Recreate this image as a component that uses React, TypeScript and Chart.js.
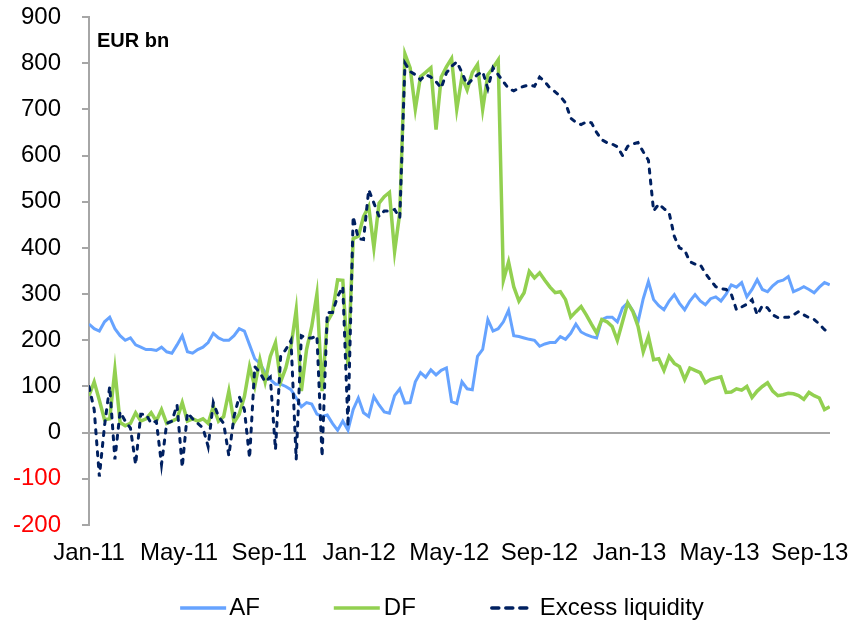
import React, { useEffect, useRef } from 'react';
import { Chart, registerables } from 'chart.js';

Chart.register(...registerables);

const FONT = '"Liberation Sans", Arial, sans-serif';

// Time axis: weekly observations starting Jan 2011, x expressed in months since Jan-11
const MONTHS_PER_WEEK = 7 / 30.4375;
const MONTHS_PER_TICK = 4;
const xTickLabels = ['Jan-11', 'May-11', 'Sep-11', 'Jan-12', 'May-12', 'Sep-12', 'Jan-13', 'May-13', 'Sep-13'];

const unitLabel = 'EUR bn';
const seriesNames = ['AF', 'DF', 'Excess liquidity'];

const afValues = [
  235, 225, 220, 240, 250, 225, 210, 200, 205, 190, 185, 180, 180, 178, 185, 175, 172, 190, 210, 175,
  172, 180, 185, 195, 215, 205, 200, 200, 210, 225, 220, 190, 160, 150, 130, 115, 105, 105, 100, 93,
  75, 56, 65, 62, 40, 35, 38, 20, 5, 25, 5, 50, 75, 43, 35, 78, 60, 45, 42, 80,
  95, 64, 65, 110, 130, 120, 136, 125, 135, 140, 67, 63, 110, 95, 93, 165, 180, 245, 220, 225,
  240, 265, 210, 208, 205, 202, 200, 187, 192, 195, 195, 208, 202, 215, 235, 218, 212, 208, 205, 245,
  250, 250, 240, 270, 281, 264, 240, 290, 327, 288, 275, 266, 285, 299, 280, 266, 285, 299, 285, 277,
  290, 294, 285, 300, 320, 315, 325, 294, 310, 331, 310, 305, 318, 327, 330, 338, 305, 310, 316, 310,
  303, 315, 325, 320,
];

const dfValues = [
  80, 110, 70, 28, 30, 136, 22, 15, 20, 43, 25, 30, 43, 25, 50, 20, 25, 30, 65, 25,
  30, 25, 30, 20, 57, 25, 35, 90, 22, 40, 78, 143, 100, 158, 110, 165, 195, 110, 140, 187,
  266, 90, 180, 230, 300, 90, 240, 260, 331, 330, 145, 420, 425, 468, 490, 400, 497, 511, 520, 392,
  476, 820, 790, 700, 771, 780, 790, 656, 770, 792, 810, 700, 770, 742, 780, 797, 700, 775, 790, 807,
  330, 370, 316, 285, 303, 349, 335, 346, 330, 315, 303, 305, 288, 250, 262, 273, 255, 235, 216, 245,
  240, 230, 200, 240, 281, 262, 230, 175, 208, 158, 160, 135, 165, 150, 143, 115, 140, 135, 130, 108,
  115, 118, 121, 87, 88, 95, 92, 100, 76, 90, 100, 108, 90, 80, 82, 85, 84, 80, 72, 87,
  80, 75, 50, 56,
];

const elValues = [
  100, 50, -95, 15, 100, -58, 45, 25, 10, -69, 40, 40, 20, 25, -69, 20, 25, 60, -75, 43,
  30, 20, 10, -30, 65, 35, 20, -50, 35, 78, 50, -55, 143, 130, 110, 120, -37, 165, 180, 200,
  -58, 210, 205, 205, 210, -52, 260, 260, 295, 316, 13, 468, 420, 418, 526, 497, 468, 480, 480, 483,
  465, 800, 782, 775, 764, 775, 770, 760, 746, 779, 793, 803, 780, 753, 765, 775, 782, 745, 790, 775,
  760, 745, 740, 746, 750, 753, 750, 770, 760, 746, 738, 728, 714, 681, 672, 667, 673, 671, 650, 634,
  628, 625, 619, 600, 620, 625, 628, 608, 590, 480, 495, 485, 476, 425, 400, 395, 370, 365, 364, 345,
  330, 316, 312, 310, 300, 266, 272, 278, 288, 255, 275, 270, 255, 249, 250, 250, 255, 262, 255, 249,
  245, 235, 223, 215,
];

const toPoints = (vals: number[]) => vals.map((y, i) => ({ x: i * MONTHS_PER_WEEK, y }));

const overlayPlugin = {
  id: 'overlay',
  afterDraw(chart: any) {
    const { ctx, chartArea } = chart;
    ctx.save();
    // unit label
    ctx.font = `bold 20px ${FONT}`;
    ctx.fillStyle = '#000000';
    ctx.textAlign = 'left';
    ctx.textBaseline = 'alphabetic';
    ctx.fillText(unitLabel, chartArea.left + 8, chartArea.top + 30);

    // legend
    ctx.font = `24px ${FONT}`;
    ctx.textBaseline = 'middle';
    const datasets = chart.data.datasets;
    const lineLen = [46, 46, 40];
    const textGap = [3, 4, 10];
    const itemGap = 74;
    const widths = datasets.map((d: any, i: number) => lineLen[i] + textGap[i] + ctx.measureText(d.label).width);
    const total = widths.reduce((a: number, b: number) => a + b, 0) + itemGap * (datasets.length - 1);
    let x = 442 - total / 2;
    const y = 608;
    datasets.forEach((d: any, i: number) => {
      ctx.save();
      ctx.strokeStyle = d.borderColor;
      ctx.lineWidth = 3.5;
      ctx.lineCap = i === 2 ? 'round' : 'butt';
      ctx.setLineDash(i === 2 ? [7, 7] : []);
      ctx.beginPath();
      ctx.moveTo(x + (i === 2 ? 2 : 0), y);
      ctx.lineTo(x + lineLen[i], y);
      ctx.stroke();
      ctx.restore();
      ctx.fillStyle = '#000000';
      ctx.fillText(d.label, x + lineLen[i] + textGap[i], y);
      x += widths[i] + itemGap;
    });
    ctx.restore();
  },
};

export default function App() {
  const canvasRef = useRef<HTMLCanvasElement | null>(null);

  useEffect(() => {
    if (!canvasRef.current) return;
    const chart = new Chart(canvasRef.current, {
      type: 'line',
      data: {
        datasets: [
          {
            label: seriesNames[0],
            data: toPoints(afValues),
            borderColor: '#66a3ff',
            borderWidth: 3,
            pointRadius: 0,
            tension: 0,
            order: 3,
          },
          {
            label: seriesNames[1],
            data: toPoints(dfValues),
            borderColor: '#92d050',
            borderWidth: 3.5,
            pointRadius: 0,
            tension: 0,
            order: 2,
          },
          {
            label: seriesNames[2],
            data: toPoints(elValues),
            borderColor: '#002060',
            borderWidth: 3,
            borderDash: [4, 7],
            borderCapStyle: 'round',
            pointRadius: 0,
            tension: 0,
            order: 1,
          },
        ],
      },
      options: {
        responsive: false,
        animation: false,
        layout: { padding: { left: 0, right: 20, top: 17, bottom: 0 } },
        plugins: { legend: { display: false }, tooltip: { enabled: false } },
        scales: {
          x: {
            type: 'linear',
            min: 0,
            max: 32.9,
            grid: { display: false, drawTicks: false },
            border: { display: false },
            ticks: {
              stepSize: MONTHS_PER_TICK,
              includeBounds: false,
              autoSkip: false,
              maxRotation: 0,
              padding: 14,
              color: '#000000',
              font: { family: FONT, size: 24 },
              callback: (v: any) => xTickLabels[Math.round(Number(v) / MONTHS_PER_TICK)] ?? '',
            },
            afterFit: (s: any) => {
              s.height = 98;
              s.paddingLeft = 0;
              s.paddingRight = 0;
            },
          },
          y: {
            min: -200,
            max: 900,
            ticks: {
              stepSize: 100,
              padding: 21,
              font: { family: FONT, size: 24 },
              color: (c: any) => (c.tick && c.tick.value < 0 ? '#ff0000' : '#000000'),
            },
            grid: {
              drawOnChartArea: true,
              color: (c: any) => (c.tick && c.tick.value === 0 ? '#a6a6a6' : 'rgba(0,0,0,0)'),
              lineWidth: 2,
              tickColor: '#a6a6a6',
              tickLength: 7,
              tickWidth: 2,
            },
            border: { display: true, color: '#a6a6a6', width: 2 },
            afterFit: (s: any) => {
              s.width = 89;
              s.paddingTop = 0;
              s.paddingBottom = 0;
            },
          },
        },
      },
      plugins: [overlayPlugin],
    });
    return () => chart.destroy();
  }, []);

  return (
    <div style={{ position: 'fixed', left: 0, top: 0, width: 850, height: 623, background: '#ffffff' }}>
      <canvas ref={canvasRef} width={850} height={623} style={{ display: 'block' }} />
    </div>
  );
}
